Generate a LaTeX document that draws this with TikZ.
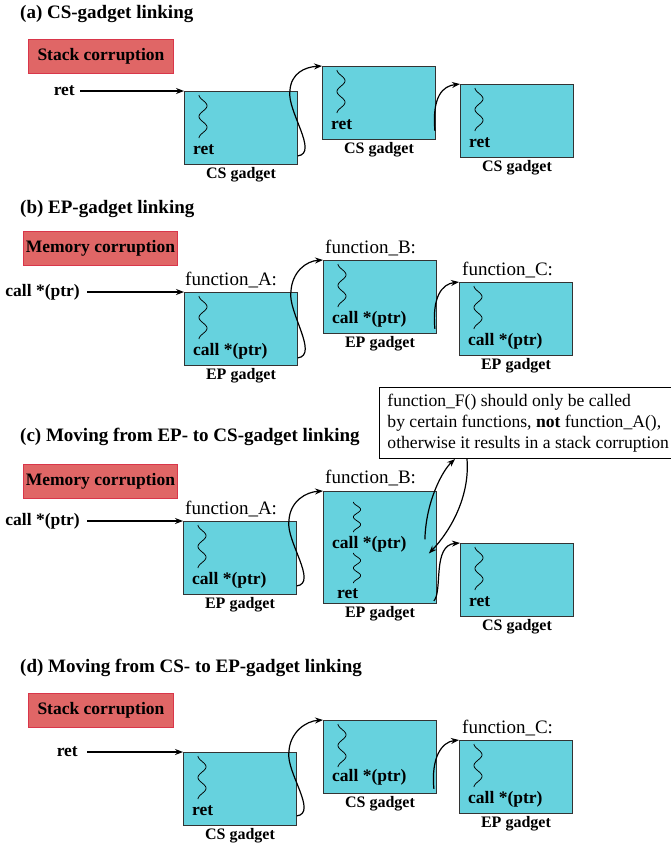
\documentclass[tikz,border=0pt]{standalone}
\usepackage{fontspec}
\setmainfont{Liberation Serif}
\usetikzlibrary{arrows.meta,calc}
\definecolor{gcyan}{HTML}{66D2DE}
\definecolor{cred}{HTML}{E06666}
\definecolor{credb}{HTML}{D9364A}
\begin{document}
\begin{tikzpicture}[x=1pt,y=-1pt,
  gadget/.style={draw=black!80,line width=0.9pt,fill=gcyan,minimum width=113pt,minimum height=73pt,inner sep=0pt,anchor=north west},
  corr/.style={fill=cred,draw=credb,line width=0.9pt,font=\fontsize{17.5}{20}\selectfont\bfseries,minimum height=34pt,inner xsep=1.5pt,inner ysep=0pt,anchor=north west},
  lbl/.style={font=\fontsize{17.5}{20}\selectfont\bfseries,inner sep=0pt},
  inlbl/.style={lbl,anchor=base west},
  capt/.style={font=\fontsize{16}{18}\selectfont\bfseries,inner sep=0pt,anchor=north},
  fn/.style={font=\fontsize{19}{22}\selectfont,inner sep=0pt,anchor=base west},
  ttl/.style={font=\fontsize{19}{22}\selectfont\bfseries,inner sep=0pt,anchor=base west},
  tbox/.style={draw=black,line width=0.9pt,fill=white,anchor=north west,align=left,font=\fontsize{17.6}{21}\selectfont,inner xsep=8pt,inner ysep=6.5pt},
  link/.style={line width=1.2pt,-{Stealth[length=8pt,width=6pt]}},
  squig/.pic={\draw[line width=0.75pt] plot[domain=0:720,samples=60,smooth] ({-4*cos(\x)},{\x*0.05972});}
]
\useasboundingbox (0,0) rectangle (671,844);

% ---------------- (a) ----------------
\node[ttl] (ta) at (20,18) {(a) CS-gadget linking};
\node[corr,minimum width=145pt] (ra) at (28,39) {Stack corruption};
\node[gadget] (A1) at (184,91) {};
\node[gadget] (A2) at (322,66) {};
\node[gadget] (A3) at (460,84) {};
\node[lbl,anchor=east] (inA) at (75,91) {ret};
\draw[link] ([xshift=5pt]inA.east) -- (A1.north west);
\pic at ([xshift=19pt,yshift=-4pt]A1.north west) {squig};
\pic at ([xshift=19pt,yshift=-4pt]A2.north west) {squig};
\pic at ([xshift=19pt,yshift=-4pt]A3.north west) {squig};
\node[inlbl] (A1t) at ([xshift=9pt,yshift=10pt]A1.south west) {ret};
\node[inlbl] (A2t) at ([xshift=9pt,yshift=10pt]A2.south west) {ret};
\node[inlbl] (A3t) at ([xshift=9pt,yshift=10pt]A3.south west) {ret};
\node[capt] (A1c) at ([yshift=-2pt]A1.south) {CS gadget};
\node[capt] (A2c) at ([yshift=-2pt]A2.south) {CS gadget};
\node[capt] (A3c) at ([yshift=-2pt]A3.south) {CS gadget};
\draw[link] ([yshift=9pt]A1.south east) .. controls +(21,-3) and +(-3,20) .. ([xshift=-8pt]A1.north east) .. controls +(1,-18) and +(-17,1) .. (A2.north west);
\draw[link] ([xshift=-1pt,yshift=9pt]A2.south east) .. controls +(-3,-35) and +(-17,2) .. (A3.north west);

% ---------------- (b) ----------------
\node[ttl] (tbt) at (20,213) {(b) EP-gadget linking};
\node[corr,minimum width=154pt] (rb) at (23,231) {Memory corruption};
\node[gadget] (B1) at (184,292) {};
\node[gadget] (B2) at (323,260) {};
\node[gadget] (B3) at (459,282) {};
\node[lbl,anchor=east] (inB) at (80,292) {call *(ptr)};
\draw[link] ([xshift=7pt]inB.east) -- (B1.north west);
\node[fn] (B1f) at ([xshift=1pt,yshift=6.5pt]B1.north west) {function\_A:};
\node[fn] (B2f) at ([xshift=2pt,yshift=6.5pt]B2.north west) {function\_B:};
\node[fn] (B3f) at ([xshift=3pt,yshift=6.5pt]B3.north west) {function\_C:};
\pic at ([xshift=19pt,yshift=-4pt]B1.north west) {squig};
\pic at ([xshift=19pt,yshift=-4pt]B2.north west) {squig};
\pic at ([xshift=19pt,yshift=-4pt]B3.north west) {squig};
\node[inlbl] (B1t) at ([xshift=9pt,yshift=10pt]B1.south west) {call *(ptr)};
\node[inlbl] (B2t) at ([xshift=9pt,yshift=10pt]B2.south west) {call *(ptr)};
\node[inlbl] (B3t) at ([xshift=9pt,yshift=10pt]B3.south west) {call *(ptr)};
\node[capt] (B1c) at ([yshift=-2pt]B1.south) {EP gadget};
\node[capt] (B2c) at ([yshift=-2pt]B2.south) {EP gadget};
\node[capt] (B3c) at ([yshift=-2pt]B3.south) {EP gadget};
\draw[link] ([yshift=8pt]B1.south east) .. controls +(21,-3) and +(-3,20) .. ([xshift=-7pt]B1.north east) .. controls +(1,-20) and +(-17,1) .. (B2.north west);
\draw[link] ([xshift=-2pt,yshift=5pt]B2.south east) .. controls +(-3,-32) and +(-17,2) .. (B3.north west);

% ---------------- (c) ----------------
\node[ttl] (tc) at (20,441) {(c) Moving from EP- to CS-gadget linking};
\node[corr,minimum width=154pt] (rc) at (23,464) {Memory corruption};
\node[gadget] (C1) at (183,521) {};
\node[gadget,minimum height=112pt] (C2) at (323,491) {};
\node[gadget] (C3) at (460,543) {};
\node[lbl,anchor=east] (inC) at (80,521) {call *(ptr)};
\draw[link] ([xshift=7pt]inC.east) -- (C1.north west);
\node[fn] (C1f) at ([xshift=2pt,yshift=6.5pt]C1.north west) {function\_A:};
\node[fn] (C2f) at ([xshift=2pt,yshift=7.5pt]C2.north west) {function\_B:};
\pic at ([xshift=19pt,yshift=-4pt]C1.north west) {squig};
\pic[yscale=0.7,xscale=0.9] at ([xshift=34pt,yshift=-11pt]C2.north west) {squig};
\pic[yscale=0.7,xscale=0.9] at ([xshift=34pt,yshift=-62pt]C2.north west) {squig};
\pic at ([xshift=19pt,yshift=-4pt]C3.north west) {squig};
\node[inlbl] (C1t) at ([xshift=9pt,yshift=10pt]C1.south west) {call *(ptr)};
\node[inlbl] (C2t) at ([xshift=9pt,yshift=55pt]C2.south west) {call *(ptr)};
\node[inlbl] (C2r) at ([xshift=14pt,yshift=5pt]C2.south west) {ret};
\node[inlbl] (C3t) at ([xshift=9pt,yshift=10pt]C3.south west) {ret};
\node[capt] (C1c) at ([yshift=-2pt]C1.south) {EP gadget};
\node[capt] (C2c) at ([yshift=-2pt]C2.south) {EP gadget};
\node[capt] (C3c) at ([yshift=-2pt]C3.south) {CS gadget};
\node[tbox] (tb) at (379,387) {function\_F() should only be called\\by certain functions, \textbf{not} function\_A(),\\otherwise it results in a stack corruption};
\draw[link] ([yshift=9pt]C1.south east) .. controls +(21,-3) and +(-3,20) .. ([xshift=-8pt]C1.north east) .. controls +(1,-20) and +(-17,1) .. (C2.north west);
\coordinate (Cup) at ([xshift=-12pt,yshift=8pt]C2.east);
\coordinate (Cdn) at ([xshift=-8pt,yshift=-6pt]C2.east);
\draw[link] (Cup) .. controls +(1,-39) and +(-12,11) .. ([xshift=76pt]tb.south west);
\draw[link] ([xshift=88pt]tb.south west) .. controls +(3,37) and +(22,-23) .. (Cdn);
\draw[link] ([xshift=-3pt,yshift=3pt]C2.south east) .. controls +(9,-10) and +(-28,2) .. (C3.north west);

% ---------------- (d) ----------------
\node[ttl] (td) at (20,672) {(d) Moving from CS- to EP-gadget linking};
\node[corr,minimum width=145pt] (rd) at (28,693) {Stack corruption};
\node[gadget] (D1) at (183,752) {};
\node[gadget] (D2) at (323,720) {};
\node[gadget] (D3) at (459,740) {};
\node[lbl,anchor=east] (inD) at (78,752) {ret};
\draw[link] ([xshift=9pt]inD.east) -- (D1.north west);
\node[fn] (D3f) at ([xshift=3pt,yshift=6.5pt]D3.north west) {function\_C:};
\pic at ([xshift=19pt,yshift=-4pt]D1.north west) {squig};
\pic at ([xshift=19pt,yshift=-4pt]D2.north west) {squig};
\pic at ([xshift=19pt,yshift=-4pt]D3.north west) {squig};
\node[inlbl] (D1t) at ([xshift=9pt,yshift=10pt]D1.south west) {ret};
\node[inlbl] (D2t) at ([xshift=9pt,yshift=12pt]D2.south west) {call *(ptr)};
\node[inlbl] (D3t) at ([xshift=9pt,yshift=10pt]D3.south west) {call *(ptr)};
\node[capt] (D1c) at ([yshift=-2pt]D1.south) {CS gadget};
\node[capt] (D2c) at ([yshift=-2pt]D2.south) {CS gadget};
\node[capt] (D3c) at ([yshift=-2pt]D3.south) {EP gadget};
\draw[link] ([yshift=10pt]D1.south east) .. controls +(21,-3) and +(-3,20) .. ([xshift=-8pt]D1.north east) .. controls +(1,-20) and +(-17,1) .. (D2.north west);
\draw[link] ([xshift=-3pt,yshift=5pt]D2.south east) .. controls +(-3,-32) and +(-17,2) .. (D3.north west);
\end{tikzpicture}
\end{document}
